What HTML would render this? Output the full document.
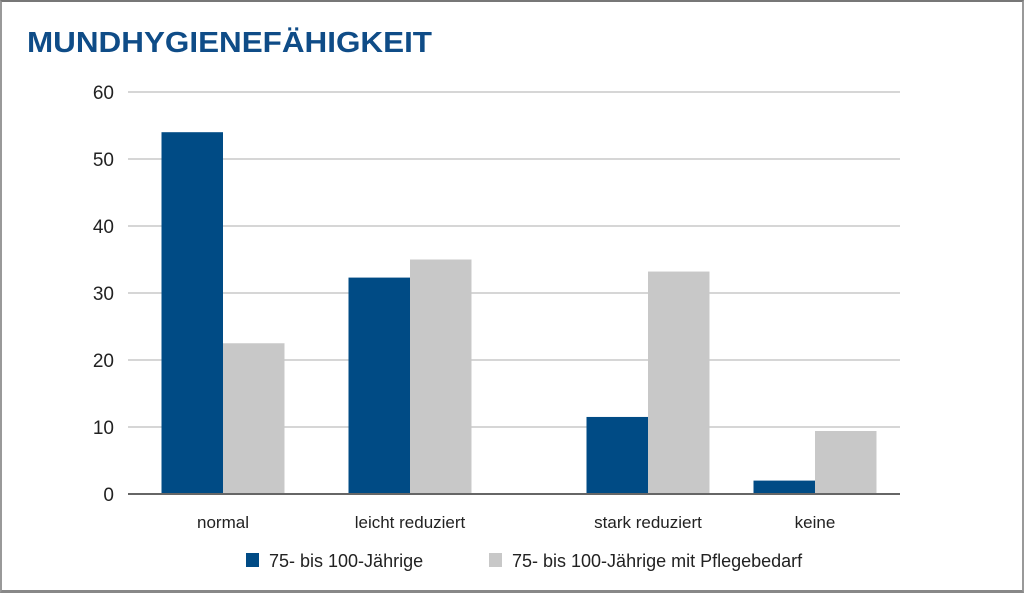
<!DOCTYPE html>
<html><head><meta charset="utf-8"><style>
html,body{margin:0;padding:0;background:#fff;}
#wrap{position:relative;width:1024px;height:593px;box-sizing:border-box;border-top:2px solid #777;border-left:2px solid #999;border-right:2px solid #999;border-bottom:3px solid #888;overflow:hidden;}
svg{position:absolute;left:-2px;top:-2px;font-family:"Liberation Sans",sans-serif;}
</style></head><body>
<div id="wrap">
<svg id="chart" width="1024" height="593">
<text x="27" y="52" font-size="29" font-weight="bold" fill="#0f4c87" textLength="405" lengthAdjust="spacingAndGlyphs">MUNDHYGIENEFÄHIGKEIT</text>
</svg>
</div>
<script>
const categories=["normal","leicht reduziert","stark reduziert","keine"];
const seriesA=[54,32.3,11.5,2];
const seriesB=[22.5,35,33.2,9.4];
const tickValues=[0,10,20,30,40,50,60];
const seriesNames=["75- bis 100-Jährige","75- bis 100-Jährige mit Pflegebedarf"];
const colors=["#004b85","#c8c8c8"];
const centers=[223,410,648,815];
const barW=61.5;
const svg=document.getElementById('chart');
const NS="http://www.w3.org/2000/svg";
const y0=494,yTop=92,xL=128,xR=900,yMax=60;
function y(v){return y0-(v/yMax)*(y0-yTop);}
function mk(t,a){const e=document.createElementNS(NS,t);for(const k in a)e.setAttribute(k,a[k]);svg.appendChild(e);return e;}
tickValues.forEach(v=>{
 const l=mk('line',{x1:xL,x2:xR,y1:y(v),y2:y(v),stroke:v===0?'#666':'#c9c9c9','stroke-width':v===0?2:1.5});
 
 
 const t=mk('text',{x:114,y:y(v)+7,'font-size':19,fill:'#222','text-anchor':'end'});
 t.textContent=v;
 
 
});
categories.forEach((c,i)=>{
 const a=mk('rect',{x:centers[i]-barW,y:y(seriesA[i]),width:barW,height:y0-y(seriesA[i]),fill:colors[0]});
 
 
 const b=mk('rect',{x:centers[i],y:y(seriesB[i]),width:barW,height:y0-y(seriesB[i]),fill:colors[1]});
 
 
 const t=mk('text',{x:centers[i],y:528,'font-size':17,fill:'#222','text-anchor':'middle'});
 t.textContent=c;
 
 
});
mk('line',{x1:xL,x2:xR,y1:y0,y2:y0,stroke:'#666','stroke-width':2});
const lx=[246,489];
seriesNames.forEach((n,i)=>{
 const r=mk('rect',{x:lx[i],y:553,width:13,height:14,fill:colors[i]});
 
 
 const t=mk('text',{x:lx[i]+23,y:567,'font-size':18,fill:'#222'});
 t.textContent=n;
 
 
});
</script>
</body></html>
